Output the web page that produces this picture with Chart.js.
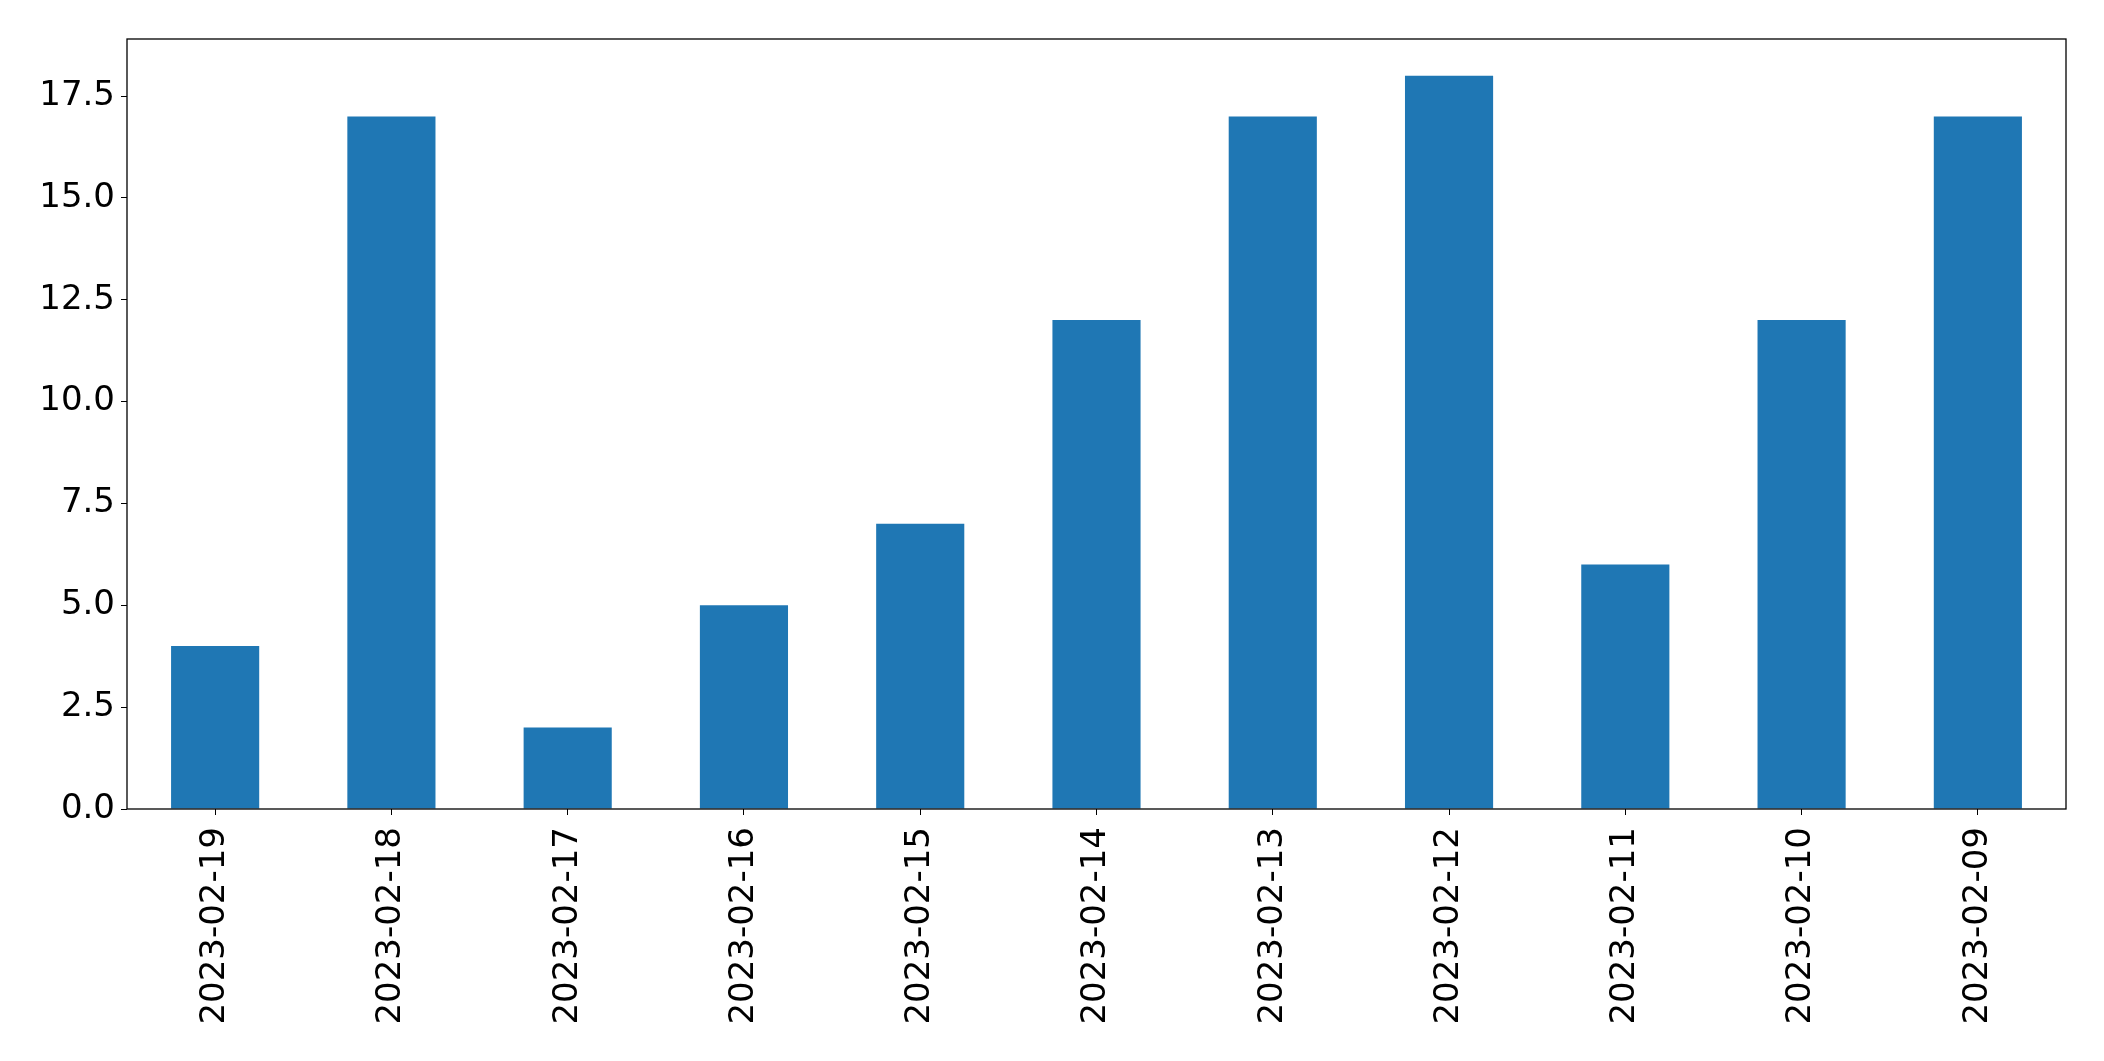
<!DOCTYPE html>
<html lang="en">
<head>
    <meta charset="UTF-8">
    <title>Daily counts</title>
    <script src="https://cdn.jsdelivr.net/npm/chart.js"></script>
    <style>
        html, body { margin: 0; padding: 0; background: #fff; }
        #wrap { width: 2104px; height: 1061px; }
    </style>
</head>
<body>
    <div id="wrap"><canvas id="barChart" width="2104" height="1061"></canvas></div>

    <script>
        // dados do grafico
        const dates = ["2023-02-19", "2023-02-18", "2023-02-17", "2023-02-16", "2023-02-15", "2023-02-14",
                       "2023-02-13", "2023-02-12", "2023-02-11", "2023-02-10", "2023-02-09"];
        const counts = [4, 17, 2, 5, 7, 12, 17, 18, 6, 12, 17];
        const yTicks = [0, 2.5, 5, 7.5, 10, 12.5, 15, 17.5];

        // moldura em volta da area do grafico
        const frame = {
            id: 'frame',
            afterDraw(chart) {
                const a = chart.chartArea, c = chart.ctx;
                c.save();
                c.strokeStyle = '#000';
                c.lineWidth = 1.3;
                c.strokeRect(a.left, a.top, a.right - a.left, a.bottom - a.top);
                c.restore();
            }
        };

        const font = { family: 'DejaVu Sans', size: 34 };

        new Chart(document.getElementById('barChart'), {
            type: 'bar',
            data: {
                labels: dates,
                datasets: [{
                    data: counts,
                    backgroundColor: '#1f77b4',
                    categoryPercentage: 1,
                    barPercentage: 0.5
                }]
            },
            options: {
                responsive: false,
                animation: false,
                layout: { padding: { top: 39, right: 38, left: 0, bottom: 0 } },
                plugins: { legend: { display: false }, tooltip: { enabled: false } },
                scales: {
                    x: {
                        grid: { drawOnChartArea: false, tickLength: 6, color: '#000', offset: false },
                        border: { display: false },
                        ticks: { font: font, color: '#000', minRotation: 90, maxRotation: 90, padding: 12, autoSkip: false },
                        afterFit(s) { s.height = 1061 - 809; }
                    },
                    y: {
                        min: 0,
                        max: 18.9,
                        grid: { drawOnChartArea: false, tickLength: 6, color: '#000' },
                        border: { display: false },
                        ticks: {
                            font: font, color: '#000', padding: 6,
                            callback: v => v.toFixed(1)
                        },
                        afterBuildTicks(s) { s.ticks = yTicks.map(v => ({ value: v })); },
                        afterFit(s) { s.width = 127; }
                    }
                }
            },
            plugins: [frame]
        });
    </script>
</body>
</html>
